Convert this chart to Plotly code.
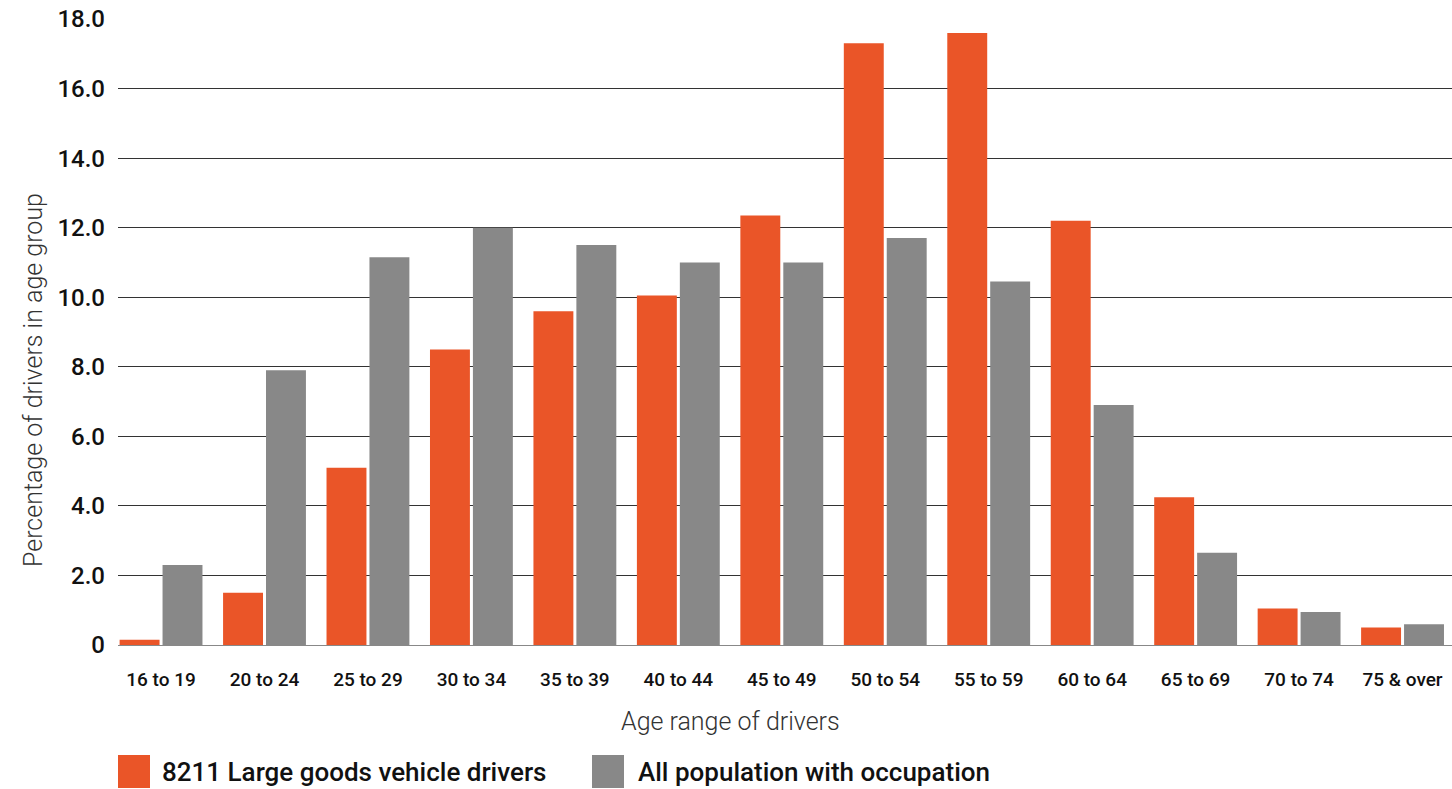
import plotly.graph_objects as go

age_groups = ["16 to 19", "20 to 24", "25 to 29", "30 to 34", "35 to 39", "40 to 44",
              "45 to 49", "50 to 54", "55 to 59", "60 to 64", "65 to 69", "70 to 74",
              "75 & over"]
lgv_drivers = [0.15, 1.5, 5.1, 8.5, 9.6, 10.05, 12.35, 17.3, 17.6, 12.2, 4.25, 1.05, 0.5]
all_population = [2.3, 7.9, 11.15, 12.0, 11.5, 11.0, 11.0, 11.7, 10.45, 6.9, 2.65, 0.95, 0.6]

series_names = ["8211 Large goods vehicle drivers", "All population with occupation"]
series_colors = ["#EA5528", "#888888"]

y_ticks = [0, 2, 4, 6, 8, 10, 12, 14, 16, 18]
y_tick_text = ["0"] + [f"{v:.1f}" for v in y_ticks[1:]]

FONT = "Roboto"
W, H = 1452, 789
ML, MR, MT, MB = 118, 0, 19, 144

fig = go.Figure()
for name, vals, col in zip(series_names, [lgv_drivers, all_population], series_colors):
    fig.add_trace(go.Bar(x=list(range(len(age_groups))), y=vals, name=name,
                         marker=dict(color=col, line=dict(width=0)),
                         showlegend=False))

fig.update_layout(
    width=W, height=H,
    margin=dict(l=ML, r=MR, t=MT, b=MB),
    paper_bgcolor="white", plot_bgcolor="white",
    barmode="group", bargap=0.17, bargroupgap=0.07,
    font=dict(family=FONT, color="#111111"),
    xaxis=dict(
        range=[-0.416, 12.478],
        tickmode="array", tickvals=list(range(len(age_groups))), ticktext=age_groups,
        tickfont=dict(size=19, color="#111111", weight=500),
        showgrid=False, zeroline=False, showline=False, ticks="",
        ticklabelstandoff=21,
    ),
    yaxis=dict(
        range=[0, 18],
        tickmode="array", tickvals=y_ticks, ticktext=y_tick_text,
        tickfont=dict(size=24, color="#111111", weight=500),
        showgrid=True, gridcolor="#333333", gridwidth=1,
        zeroline=True, zerolinecolor="#888888", zerolinewidth=1,
        showline=False, ticks="", ticklabelstandoff=12,
    ),
)

# Axis titles
fig.add_annotation(text="Age range of drivers", xref="paper", yref="paper",
                   x=(730 - ML) / (W - ML - MR), y=-(721 - (H - MB)) / (H - MT - MB),
                   xanchor="center", yanchor="middle", showarrow=False,
                   font=dict(family=FONT, size=25, color="#333333", weight=300))
fig.add_annotation(text="Percentage of drivers in age group", xref="paper", yref="paper",
                   x=-(ML - 33) / (W - ML - MR), y=((H - MB) - 380) / (H - MT - MB),
                   xanchor="center", yanchor="middle", showarrow=False, textangle=-90,
                   font=dict(family=FONT, size=25, color="#333333", weight=300))

# Legend drawn below the chart: swatch + label per series
pw, ph = W - ML - MR, H - MT - MB
legend_items = [(118, 160), (592, 636)]
for (sx, tx), name, col in zip(legend_items, series_names, series_colors):
    fig.add_shape(type="rect", xref="paper", yref="paper",
                  x0=(sx - ML) / pw, x1=(sx + 32 - ML) / pw,
                  y0=((H - MB) - 788) / ph, y1=((H - MB) - 755) / ph,
                  fillcolor=col, line=dict(width=0))
    fig.add_annotation(text=name, xref="paper", yref="paper",
                       x=(tx - ML) / pw, y=((H - MB) - 772) / ph,
                       xanchor="left", yanchor="middle", showarrow=False,
                       font=dict(family=FONT, size=26, color="#111111", weight=500))

fig.write_html("out.html")
